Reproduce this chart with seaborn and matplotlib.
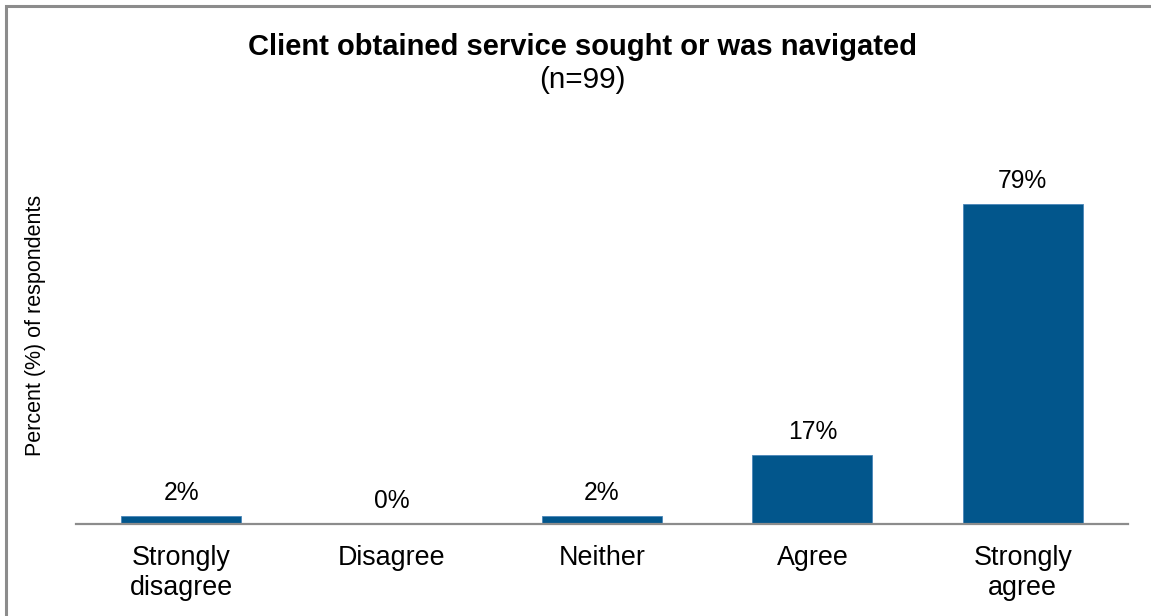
import matplotlib
matplotlib.use("Agg")
import matplotlib.pyplot as plt
from matplotlib.patches import Rectangle
import seaborn as sns
import pandas as pd

categories = ["Strongly\ndisagree", "Disagree", "Neither", "Agree", "Strongly\nagree"]
percents = [2, 0, 2, 17, 79]
value_labels = ["2%", "0%", "2%", "17%", "79%"]

title = "Client obtained service sought or was navigated"
subtitle = "(n=99)"
y_label = "Percent (%) of respondents"

sns.set_theme(style="white")
plt.rcParams["font.family"] = ["Liberation Sans", "DejaVu Sans"]

W, H = 1151, 616
fig = plt.figure(figsize=(W / 100, H / 100), dpi=100)
ax = fig.add_axes([76 / W, 1 - 524 / H, 1052 / W, (524 - 150) / H])

df = pd.DataFrame({"category": categories, "percent": percents})
sns.barplot(data=df, x="category", y="percent", color="#02568C", width=0.57,
            saturation=1, ax=ax, edgecolor="#4a86b8", linewidth=0.6)

ax.set_xlim(-0.5, 4.5)
ax.set_ylim(0, 374 / 4.05)
ax.set_yticks([])
ax.set_xlabel("")
ax.set_ylabel("")
for s in ["top", "right", "left"]:
    ax.spines[s].set_visible(False)
ax.spines["bottom"].set_color("#8c8c8c")
ax.spines["bottom"].set_linewidth(1.6)
ax.tick_params(axis="x", length=0, pad=15, labelsize=19.4, colors="black")
for t in ax.get_xticklabels():
    t.set_linespacing(1.22)

for i, (v, lab) in enumerate(zip(percents, value_labels)):
    ax.annotate(lab, (i, v), xytext=(0, 8), textcoords="offset points",
                ha="center", va="bottom", fontsize=17.7, color="black")

fig.text(582 / W, 1 - 47 / H, title, ha="center", va="center",
         fontsize=21, fontweight="bold", color="black")
fig.text(582 / W, 1 - 80 / H, subtitle, ha="center", va="center",
         fontsize=21.3, color="black")
fig.text(36 / W, 1 - 325 / H, y_label, ha="center", va="center",
         rotation=90, fontsize=15.5, color="black")

# outer frame of the chart area
fig.patches.append(Rectangle((6 / W, -0.1), 1.2, 1 - 6 / H + 0.1,
                             transform=fig.transFigure, fill=False,
                             edgecolor="#8c8c8c", linewidth=2.2))

fig.savefig("out.png", dpi=100)
